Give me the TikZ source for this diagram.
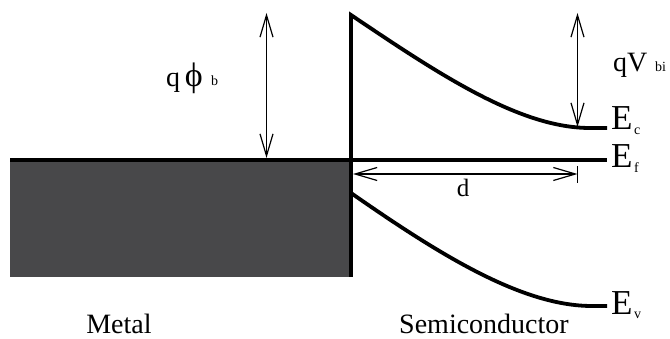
\documentclass[tikz,border=0pt]{standalone}
\usepackage{fontspec}
\setmainfont{Liberation Serif}
\usetikzlibrary{arrows.meta}
\definecolor{metalgray}{RGB}{72,72,74}
\tikzset{
  band/.style={line width=3.8pt, line join=miter},
  dimarrow/.style={line width=1.2pt, {Straight Barb[length=22pt,width=13pt,line width=1.2pt]}-{Straight Barb[length=22pt,width=13pt,line width=1.2pt]}},
  biglabel/.style={font=\fontsize{35}{40}\selectfont, inner sep=0pt, anchor=base west},
  midlabel/.style={font=\fontsize{28}{32}\selectfont, inner sep=0pt, anchor=base west},
  sublabel/.style={font=\fontsize{14}{16}\selectfont, inner sep=0pt, anchor=base west},
}
\begin{document}
\begin{tikzpicture}[x=1pt,y=-1pt]
\useasboundingbox (0,0) rectangle (670,339);
% coordinates
\coordinate (mtl) at (10,160);
\coordinate (mbr) at (351,277);
\coordinate (top) at (351,15);
\coordinate (efend) at (607,160);
\coordinate (ecflat) at (590,128);
\coordinate (ecend) at (607,128);
\coordinate (evstart) at (351,193);
\coordinate (evflat) at (592,306);
\coordinate (evend) at (607,306);
\coordinate (phitop) at (266.5,13);
\coordinate (phibot) at (266.5,158);
\coordinate (vbitop) at (577.5,13);
\coordinate (vbibot) at (577.5,127);
\coordinate (dleft) at (353,174);
\coordinate (dright) at (577.5,174);
\coordinate (ticktop) at (577.5,166);
\coordinate (tickbot) at (577.5,183);
% metal
\fill[metalgray] (mtl) rectangle (mbr);
% Fermi level
\draw[band] (mtl) -- (efend);
% interface + conduction band
\draw[band] (mbr) -- (top) .. controls (440,75) and (520,128) .. (ecflat) -- (ecend);
% valence band
\draw[band] (evstart) .. controls (440,255) and (522,306) .. (evflat) -- (evend);
% arrows
\draw[dimarrow] (phitop) -- (phibot);
\draw[dimarrow] (vbitop) -- (vbibot);
\draw[dimarrow] (dleft) -- (dright);
\draw[line width=1.2pt] (ticktop) -- (tickbot);
% labels
\node[midlabel] (qphi) at (166,87) {q\,{\fontsize{34}{36}\selectfont ϕ}};
\node[sublabel] (phisub) at (211,86) {b};
\node[midlabel] (qv) at (613,72) {qV};
\node[sublabel] (vsub) at (655,72) {bi};
\node[biglabel] (ec) at (611,130) {E};
\node[sublabel] (ecsub) at (634,135) {c};
\node[biglabel] (ef) at (611,168) {E};
\node[sublabel] (efsub) at (634,173) {f};
\node[biglabel] (ev) at (611,315) {E};
\node[sublabel] (evsub) at (634,319) {v};
\node[font=\fontsize{25}{30}\selectfont, inner sep=0pt, anchor=base] (dlab) at (463,197) {d};
\node[midlabel, anchor=base] (metal) at (119,334) {Metal};
\node[midlabel, anchor=base] (semi) at (484,334) {Semiconductor};
\end{tikzpicture}
\end{document}
